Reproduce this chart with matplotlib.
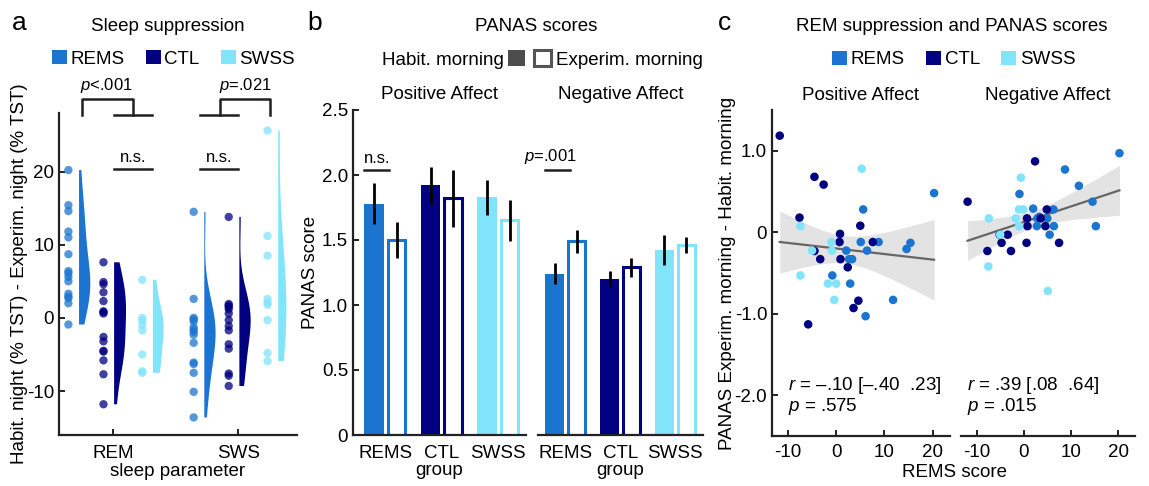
import matplotlib
matplotlib.use("Agg")
import matplotlib.pyplot as plt
from matplotlib.patches import Patch
import numpy as np

plt.rcParams['font.family'] = ['Liberation Sans', 'DejaVu Sans']
plt.rcParams['mathtext.fontset'] = 'custom'
plt.rcParams['mathtext.rm'] = 'Liberation Sans'
plt.rcParams['mathtext.it'] = 'Liberation Sans:italic'
plt.rcParams['axes.unicode_minus'] = False
FS = 13.5
plt.rcParams['font.size'] = FS

# colours per group
groups = ['REMS', 'CTL', 'SWSS']
colors = ['#1B75D0', '#000080', '#82E4FB']

# ---- panel a: habit. night - experim. night (% TST)
sleep_params = ['REM', 'SWS']
rem_rems = [20.2, 15.4, 14.6, 11.8, 11.0, 8.7, 6.4, 6.1, 5.6, 5.0, 3.3, 2.9, 2.7, 2.0, -0.9]
rem_ctl = [7.6, 4.9, 4.6, 3.5, 2.3, 0.9, 0.8, 0.6, -2.6, -3.2, -4.5, -4.6, -5.8, -7.7, -11.8]
rem_swss = [5.2, 0.0, -0.4, -1.0, -1.7, -5.0, -7.3, -7.5]
sws_rems = [14.5, 2.6, 0.0, -0.2, -0.5, -1.3, -1.6, -1.9, -2.3, -3.4, -6.1, -6.3, -7.5, -10.1, -13.6]
sws_ctl = [13.8, 1.9, 1.7, 1.5, 1.2, 0.6, -0.3, -1.1, -1.7, -3.6, -4.2, -7.6, -7.9, -9.3]
sws_swss = [25.6, 11.2, 8.5, 2.6, 2.1, 1.8, -0.3, -4.8, -5.9]

# ---- panel b: PANAS scores (mean, error)
pos_habit = [1.78, 1.92, 1.83]
pos_habit_err = [0.16, 0.14, 0.135]
pos_exp = [1.50, 1.82, 1.65]
pos_exp_err = [0.14, 0.22, 0.155]
neg_habit = [1.24, 1.20, 1.42]
neg_habit_err = [0.08, 0.06, 0.115]
neg_exp = [1.49, 1.29, 1.46]
neg_exp_err = [0.09, 0.075, 0.06]

# ---- panel c: REMS score vs PANAS difference
pa_rems_x = [20.3, 5.6, 5.1, 8.8, 15.4, 14.6, 2.1, 6.4, 2.7, 3.3, -0.8, 2.9, 11.8, 6.1]
pa_rems_y = [0.48, 0.28, -0.12, -0.12, -0.13, -0.205, -0.225, -0.225, -0.33, -0.33, -0.53, -0.63, -0.83, -1.03]
pa_ctl_x = [-11.7, -4.5, -2.6, -7.6, 5.0, 0.8, 0.7, 7.6, -4.5, -3.3, 0.9, 2.4, 4.6, 3.6, -5.8]
pa_ctl_y = [1.185, 0.68, 0.585, 0.18, 0.08, -0.02, -0.12, -0.12, -0.23, -0.33, -0.33, -0.43, -0.84, -0.93, -1.13]
pa_swss_x = [5.3, -7.4, -1.0, -0.9, -5.0, -7.4, -1.7, 0.0, -0.4]
pa_swss_y = [0.78, 0.075, -0.12, -0.225, -0.225, -0.53, -0.63, -0.63, -0.83]

na_rems_x = [20.3, 8.75, 11.7, -0.9, 14.6, 2.0, 6.3, 2.9, 3.3, 5.0, 2.8, 6.4, 15.3, 5.5]
na_rems_y = [0.97, 0.77, 0.57, 0.47, 0.375, 0.29, 0.28, 0.17, 0.19, 0.17, 0.075, 0.075, 0.075, -0.03]
na_ctl_x = [2.4, -11.9, 4.9, 0.7, 3.6, 0.8, 4.6, -5.1, -3.4, -4.7, 0.6, 7.5, -7.7, -2.7]
na_ctl_y = [0.87, 0.375, 0.28, 0.17, 0.17, 0.075, 0.075, -0.03, -0.03, -0.13, -0.13, -0.13, -0.23, -0.23]
na_swss_x = [-0.6, -1.0, -0.1, -7.4, -1.7, -1.0, -5.0, -7.5, 5.1]
na_swss_y = [0.67, 0.28, 0.28, 0.17, 0.17, 0.075, -0.03, -0.42, -0.72]

pa_stats = ['$r$ = –.10 [–.40  .23]', '$p$ = .575']
na_stats = ['$r$ = .39 [.08  .64]', '$p$ = .015']

W, H = 1149, 486
fig = plt.figure(figsize=(W / 100, H / 100), dpi=100)


def box(x0, x1, ytop, ybot):
    # pixel box -> figure fraction
    return [x0 / W, 1 - ybot / H, (x1 - x0) / W, (ybot - ytop) / H]


def style(ax, left=True):
    for s in ['top', 'right']:
        ax.spines[s].set_visible(False)
    for s in ['bottom', 'left']:
        ax.spines[s].set_linewidth(1.6)
        ax.spines[s].set_color('#222222')
    ax.tick_params(direction='in', length=4, width=1.4, color='#222222', labelsize=FS)
    if not left:
        ax.spines['left'].set_visible(False)
        ax.tick_params(axis='y', left=False, labelleft=False)


def square_legend(x, y, handles, labels, hh=0.78):
    return fig.legend(handles, labels, loc='center', bbox_to_anchor=(x / W, 1 - y / H),
                      ncol=len(handles), frameon=False, fontsize=FS, handlelength=hh,
                      handleheight=hh, handletextpad=0.2, columnspacing=1.15,
                      borderpad=0, borderaxespad=0)


# ================= panel a =================
ax = fig.add_axes(box(59, 297, 113, 435))
style(ax)
a_data = [[rem_rems, rem_ctl, rem_swss], [sws_rems, sws_ctl, sws_swss]]
offsets = [-0.31, -0.03, 0.28]
vwidth = [[0.18, 0.19, 0.17], [0.18, 0.18, 0.13]]
for gi, gdata in enumerate(a_data):
    for ci, vals in enumerate(gdata):
        base = gi + 1 + offsets[ci]
        ax.scatter(np.full(len(vals), base - 0.045), vals, s=36, color=colors[ci],
                   alpha=0.75, edgecolors='none', zorder=3)
        vp = ax.violinplot([vals], positions=[base + 0.04], widths=vwidth[gi][ci],
                           showextrema=False, side='high')
        for b in vp['bodies']:
            b.set_facecolor(colors[ci])
            b.set_edgecolor('none')
            b.set_alpha(1)
ax.set_xlim(0.57, 2.47)
ax.set_ylim(-16, 28)
ax.set_xticks([1, 2])
ax.set_xticklabels(sleep_params)
ax.tick_params(axis='x', pad=7)
ax.set_yticks([-10, 0, 10, 20])
ax.set_xlabel('sleep parameter', fontsize=FS, labelpad=1)
ax.set_ylabel('Habit. night (% TST) - Experim. night (% TST)', fontsize=FS, labelpad=-1)

bk = dict(color='#231f20', lw=1.8, clip_on=False)
ax.plot([0.75, 0.75, 1.158, 1.158], [27.7, 29.9, 29.9, 27.7], **bk)
ax.plot([1.01, 1.31], [27.7, 27.7], **bk)
ax.plot([1.696, 1.998], [27.7, 27.7], **bk)
ax.plot([1.856, 1.856, 2.256, 2.256], [27.7, 29.9, 29.9, 27.7], **bk)
ax.plot([1.01, 1.31], [20.3, 20.3], **bk)
ax.plot([1.696, 1.998], [20.3, 20.3], **bk)
ax.text(0.95, 30.5, '$p$<.001', ha='center', va='bottom', fontsize=12)
ax.text(2.06, 30.5, '$p$=.021', ha='center', va='bottom', fontsize=12)
ax.text(1.16, 20.9, 'n.s.', ha='center', va='bottom', fontsize=12)
ax.text(1.85, 20.9, 'n.s.', ha='center', va='bottom', fontsize=12)

fig.text(168 / W, 1 - 31 / H, 'Sleep suppression', ha='center', va='baseline', fontsize=FS)
grp_handles = [Patch(facecolor=c, edgecolor='none') for c in colors]
square_legend(173.5, 59, grp_handles, groups)

# ================= panel b =================
x = np.arange(len(groups))
bw = 0.35
axb1 = fig.add_axes(box(353, 526, 110, 435))
axb2 = fig.add_axes(box(538, 703, 110, 435))
for axb, hab, hab_e, exp, exp_e, xl in [
        (axb1, pos_habit, pos_habit_err, pos_exp, pos_exp_err, (-0.575, 2.49)),
        (axb2, neg_habit, neg_habit_err, neg_exp, neg_exp_err, (-0.51, 2.51))]:
    style(axb, left=axb is axb1)
    axb.bar(x - 0.2, hab, width=bw, color=colors, edgecolor='none')
    axb.bar(x + 0.2, exp, width=bw - 0.04, color='white', edgecolor=colors, linewidth=2.2)
    axb.errorbar(x - 0.2, hab, yerr=hab_e, fmt='none', ecolor='black', elinewidth=2, capsize=0)
    axb.errorbar(x + 0.2, exp, yerr=exp_e, fmt='none', ecolor='black', elinewidth=2, capsize=0)
    axb.set_xlim(*xl)
    axb.set_ylim(0, 2.5)
    axb.set_xticks(x)
    axb.set_xticklabels(groups)
    axb.tick_params(axis='x', bottom=False, pad=7)
    axb.set_xlabel('group', fontsize=FS, labelpad=0)
axb1.set_yticks([0, 0.5, 1.0, 1.5, 2.0, 2.5])
axb1.set_yticklabels(['0', '0.5', '1.0', '1.5', '2.0', '2.5'])
axb1.set_ylabel('PANAS score', fontsize=FS, labelpad=2)
axb1.set_title('Positive Affect', fontsize=FS, pad=8)
axb2.set_title('Negative Affect', fontsize=FS, pad=8)
axb1.plot([-0.38, 0.07], [2.04, 2.04], color='#231f20', lw=1.8)
axb1.text(-0.155, 2.07, 'n.s.', ha='center', va='bottom', fontsize=12)
axb2.plot([-0.38, 0.07], [2.04, 2.04], color='#231f20', lw=1.8)
axb2.text(-0.29, 2.07, '$p$=.001', ha='center', va='bottom', fontsize=12)

fig.text(535.8 / W, 1 - 31 / H, 'PANAS scores', ha='center', va='baseline', fontsize=FS)
fig.legend([Patch(facecolor='#4D4D4D', edgecolor='none')], ['Habit. morning'],
           loc='center right', bbox_to_anchor=(525 / W, 1 - 59.5 / H), frameon=False,
           fontsize=FS, handlelength=0.92, handleheight=0.92, handletextpad=0.2,
           borderpad=0, borderaxespad=0, markerfirst=False)
fig.legend([Patch(facecolor='white', edgecolor='#555555', linewidth=2.2)], ['Experim. morning'],
           loc='center left', bbox_to_anchor=(534 / W, 1 - 59.5 / H), frameon=False,
           fontsize=FS, handlelength=0.92, handleheight=0.92, handletextpad=0.25,
           borderpad=0, borderaxespad=0)

# ================= panel c =================
axc1 = fig.add_axes(box(772, 950, 110, 436))
axc2 = fig.add_axes(box(961, 1135, 110, 436))
c_sets = [
    (axc1, [(pa_rems_x, pa_rems_y), (pa_ctl_x, pa_ctl_y), (pa_swss_x, pa_swss_y)], pa_stats, 0.09),
    (axc2, [(na_rems_x, na_rems_y), (na_ctl_x, na_ctl_y), (na_swss_x, na_swss_y)], na_stats, 0.036),
]
for axc, pts, stats, tx in c_sets:
    style(axc, left=axc is axc1)
    xs = np.concatenate([p[0] for p in pts])
    ys = np.concatenate([p[1] for p in pts])
    # linear fit with 95% confidence band
    slope, icpt = np.polyfit(xs, ys, 1)
    n = len(xs)
    resid = ys - (slope * xs + icpt)
    s_err = np.sqrt(np.sum(resid ** 2) / (n - 2))
    xg = np.linspace(xs.min(), xs.max(), 100)
    yg = slope * xg + icpt
    se = s_err * np.sqrt(1 / n + (xg - xs.mean()) ** 2 / np.sum((xs - xs.mean()) ** 2))
    axc.fill_between(xg, yg - 2.03 * se, yg + 2.03 * se, color='#E3E3E3', lw=0, zorder=1)
    axc.plot(xg, yg, color='#666666', lw=1.6, zorder=2)
    for (px, py), c in zip(pts, colors):
        axc.scatter(px, py, s=38, color=c, edgecolors='none', zorder=3)
    axc.set_xlim(-13.3, 23.6)
    axc.set_ylim(-2.5, 1.5)
    axc.set_xticks([-10, 0, 10, 20])
    axc.tick_params(axis='x', pad=6)
    axc.text(tx, 0.156, stats[0], transform=axc.transAxes, ha='left', va='center', fontsize=FS)
    axc.text(tx, 0.089, stats[1], transform=axc.transAxes, ha='left', va='center', fontsize=FS)
axc1.set_yticks([-2, -1, 0, 1])
axc1.set_yticklabels(['-2.0', '-1.0', '0', '1.0'])
axc1.set_ylabel('PANAS Experim. morning - Habit. morning', fontsize=FS, labelpad=-1)
axc1.set_title('Positive Affect', fontsize=FS, pad=7)
axc2.set_title('Negative Affect', fontsize=FS, pad=7)
fig.text(955 / W, 1 - 472 / H, 'REMS score', ha='center', va='center', fontsize=FS)

fig.text(951.7 / W, 1 - 31 / H, 'REM suppression and PANAS scores', ha='center', va='baseline', fontsize=FS)
square_legend(953.8, 59.5, grp_handles, groups)

# panel letters
for lx, letter in [(12, 'a'), (307, 'b'), (718, 'c')]:
    fig.text(lx / W, 1 - 30 / H, letter, ha='left', va='baseline', fontsize=19)

fig.savefig('out.png', dpi=100)
